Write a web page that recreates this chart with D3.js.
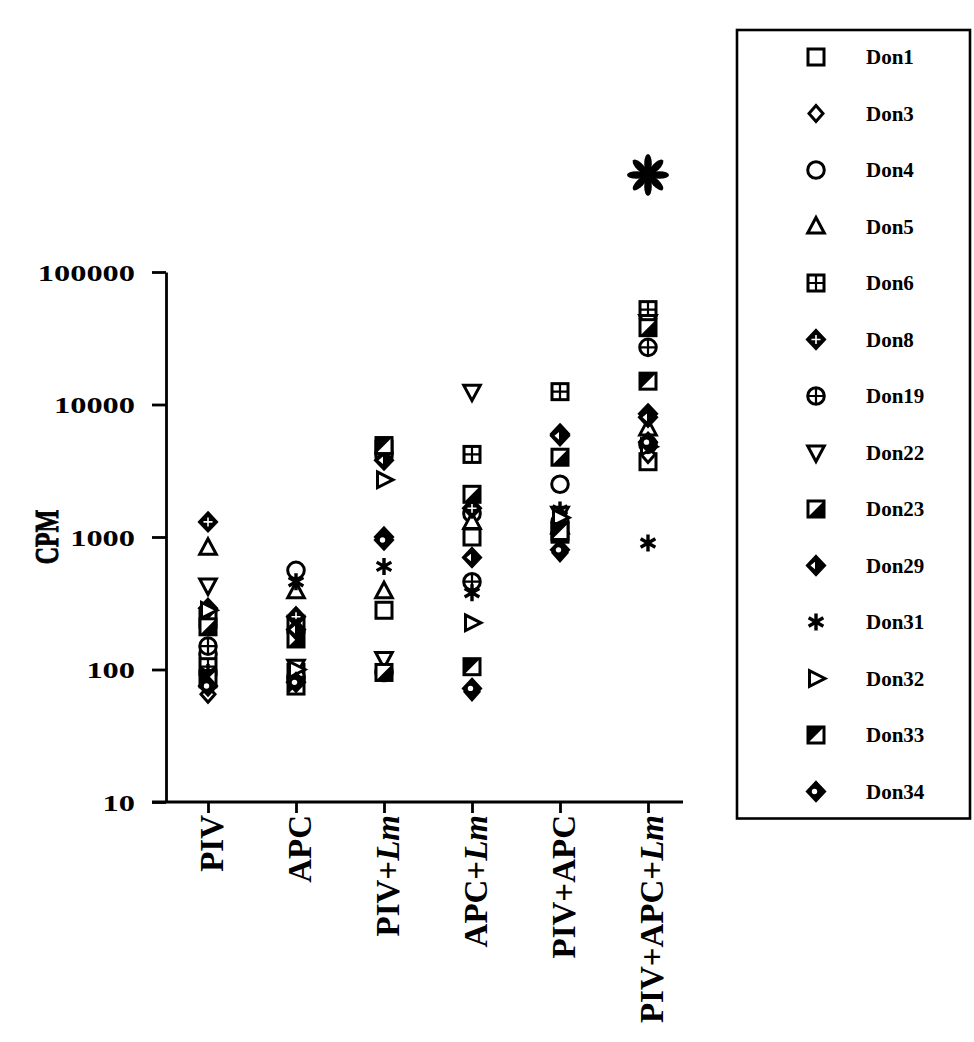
<!DOCTYPE html>
<html>
<head>
<meta charset="utf-8">
<script src="https://cdn.jsdelivr.net/npm/d3@7"></script>
<style>
  body { margin: 0; background: #fff; }
  svg { display: block; }
  text { font-family: "Liberation Serif", "Times New Roman", serif; fill: #000; }
</style>
</head>
<body>
<svg id="chart" width="974" height="1042"></svg>
<script>
// Treatment groups along the x axis
const categories = ["PIV", "APC", "PIV+Lm", "APC+Lm", "PIV+APC", "PIV+APC+Lm"];
// y-axis tick values (CPM, log scale)
const yTicks = [10, 100, 1000, 10000, 100000];

// Donor names and their marker shapes
const donors  = ["Don1", "Don3", "Don4", "Don5", "Don6", "Don8", "Don19", "Don22", "Don23", "Don29", "Don31", "Don32", "Don33", "Don34"];
const symbols = ["square", "diamond", "circle", "triUp", "squareGrid", "diamondCross", "circlePlus", "triDown", "squareHalfLR", "diamondHalf", "asterisk", "triRight", "squareHalfUL", "diamondDot"];

// CPM per donor, one value per treatment group (same order as categories)
const don1  = [240, 220, 280, 1000, 1050, 3700];
const don3  = [65, 85, 100, 68, 760, 4200];
const don4  = [130, 560, 4300, 1500, 2500, 5000];
const don5  = [830, 390, 390, 1300, 1200, 6600];
const don6  = [105, 95, 4600, 4200, 12500, 52000];
const don8  = [1300, 250, 1000, 1650, 6000, 8500];
const don19 = [150, 88, 95, 460, 1300, 27000];
const don22 = [430, 105, 120, 12500, 1500, 42000];
const don23 = [210, 170, 95, 2100, 4000, 38000];
const don29 = [290, 200, 3800, 700, 5800, 8000];
const don31 = [95, 460, 600, 380, 1600, 900];
const don32 = [280, 100, 2700, 225, 1400, 4800];
const don33 = [85, 75, 4900, 105, 1100, 15000];
const don34 = [75, 80, 950, 72, 800, 5200];

const values = [don1, don3, don4, don5, don6, don8, don19, don22, don23, don29, don31, don32, don33, don34];

const svg = d3.select("#chart");

const x = d3.scalePoint().domain(categories).range([208, 648]);
const y = d3.scaleLog().domain([10, 100000]).range([802, 272]);

const AX_W = 2.8;

// ---------- marker drawing ----------
function drawMarker(g, type) {
  const r = 8, sw = 3;
  const st = sel => sel.attr("stroke", "#000").attr("stroke-width", sw).attr("stroke-linejoin", "miter");
  const poly = pts => "M" + pts.map(p => p.join(",")).join("L") + "Z";
  const dia = (w, h) => poly([[0, -h], [w, 0], [0, h], [-w, 0]]);
  switch (type) {
    case "square":
      st(g.append("rect").attr("x", -r).attr("y", -r).attr("width", 2 * r).attr("height", 2 * r).attr("fill", "#fff"));
      break;
    case "diamond":
      st(g.append("path").attr("d", dia(7, 8)).attr("fill", "#fff"));
      break;
    case "circle":
      st(g.append("circle").attr("r", 8.3).attr("fill", "#fff"));
      break;
    case "triUp":
      st(g.append("path").attr("d", poly([[0, -9], [8.3, 6.5], [-8.3, 6.5]])).attr("fill", "#fff"));
      break;
    case "triDown":
      st(g.append("path").attr("d", poly([[0, 9], [8.3, -6.5], [-8.3, -6.5]])).attr("fill", "#fff"));
      break;
    case "triRight":
      st(g.append("path").attr("d", poly([[9, 0], [-6.5, -7.8], [-6.5, 7.8]])).attr("fill", "#fff"));
      break;
    case "squareGrid":
      st(g.append("rect").attr("x", -r).attr("y", -r).attr("width", 2 * r).attr("height", 2 * r).attr("fill", "#fff"));
      g.append("path").attr("d", `M0,${-r}V${r}M${-r},0H${r}`).attr("stroke", "#000").attr("stroke-width", 2.2);
      break;
    case "circlePlus":
      st(g.append("circle").attr("r", 8.3).attr("fill", "#fff"));
      g.append("path").attr("d", "M0,-8.3V8.3M-8.3,0H8.3").attr("stroke", "#000").attr("stroke-width", 2.2);
      break;
    case "squareHalfLR":
      st(g.append("rect").attr("x", -r).attr("y", -r).attr("width", 2 * r).attr("height", 2 * r).attr("fill", "#fff"));
      g.append("path").attr("d", poly([[r, -r], [r, r], [-r, r]])).attr("fill", "#000");
      break;
    case "squareHalfUL":
      st(g.append("rect").attr("x", -r).attr("y", -r).attr("width", 2 * r).attr("height", 2 * r).attr("fill", "#fff"));
      g.append("path").attr("d", poly([[-r, -r], [r, -r], [-r, r]])).attr("fill", "#000");
      break;
    case "diamondCross":
      st(g.append("path").attr("d", dia(8.5, 9)).attr("fill", "#000"));
      g.append("path").attr("d", "M0,-4.5V4.5M-4.5,0H4.5").attr("stroke", "#fff").attr("stroke-width", 1.6);
      break;
    case "diamondHalf":
      st(g.append("path").attr("d", dia(8.5, 9)).attr("fill", "#000"));
      g.append("path").attr("d", poly([[-5.5, 0], [-1, -3.8], [-1, 3.8]])).attr("fill", "#fff");
      break;
    case "diamondDot":
      st(g.append("path").attr("d", dia(8.5, 9)).attr("fill", "#000"));
      g.append("circle").attr("cx", -1.5).attr("r", 2.7).attr("fill", "#fff");
      break;
    case "asterisk": {
      const a = 8.5;
      const d = [90, 30, 150].map(deg => {
        const t = deg * Math.PI / 180, cx = a * Math.cos(t), cy = a * Math.sin(t);
        return `M${-cx},${-cy}L${cx},${cy}`;
      }).join("");
      g.append("path").attr("d", d).attr("stroke", "#000").attr("stroke-width", 3.4);
      break;
    }
  }
}

// ---------- axes ----------
const yAxis = d3.axisLeft(y)
  .tickValues(yTicks)
  .tickFormat(d3.format("d"))
  .tickSize(14)
  .tickSizeOuter(0)
  .tickPadding(17);

const gy = svg.append("g").attr("transform", "translate(166,0)").call(yAxis);
gy.selectAll("path, line").attr("stroke", "#000").attr("stroke-width", AX_W);
gy.selectAll("text")
  .attr("font-family", "Liberation Serif, serif")
  .attr("font-weight", "bold")
  .attr("font-size", 23)
  .attr("dy", "0.36em")
  .attr("textLength", d => String(d).length * 16.2)
  .attr("lengthAdjust", "spacingAndGlyphs");

const xAxis = d3.axisBottom(x).tickSize(11).tickSizeOuter(0).tickFormat("");
const gx = svg.append("g").attr("transform", "translate(0,802)").call(xAxis);
gx.select(".domain").remove();
gx.selectAll("line").attr("stroke", "#000").attr("stroke-width", AX_W);
gx.append("line").attr("x1", 152).attr("x2", 683).attr("y1", 0).attr("y2", 0)
  .attr("stroke", "#000").attr("stroke-width", AX_W);

// rotated category labels, "Lm" in italics
gx.selectAll(".cat")
  .data(categories)
  .join("text")
  .attr("class", "cat")
  .attr("transform", d => `translate(${x(d) + 15},13) rotate(-90)`)
  .attr("text-anchor", "end")
  .attr("font-family", "Liberation Serif, serif")
  .attr("font-weight", "bold")
  .attr("font-size", 33)
  .each(function (d) {
    const t = d3.select(this);
    const parts = d.split("Lm");
    t.append("tspan").text(parts[0]);
    if (d.endsWith("Lm")) t.append("tspan").attr("font-style", "italic").text("Lm");
  });

// y-axis title
svg.append("text")
  .attr("transform", "translate(58,537) scale(1.4,1) rotate(-90)")
  .attr("text-anchor", "middle")
  .attr("font-family", "Liberation Serif, serif")
  .attr("font-weight", "bold")
  .attr("font-size", 24)
  .attr("stroke", "#000")
  .attr("stroke-width", 0.7)
  .text("CPM");

// ---------- points ----------
const series = donors.map((name, i) => ({ name, symbol: symbols[i], values: values[i] }));
const pts = [];
series.forEach(s => s.values.forEach((v, j) => pts.push({ name: s.name, symbol: s.symbol, cat: categories[j], v })));

svg.append("g").attr("class", "points")
  .selectAll("g")
  .data(pts)
  .join("g")
  .attr("transform", d => `translate(${x(d.cat)},${y(d.v)})`)
  .each(function (d) { drawMarker(d3.select(this), d.symbol); });

// significance marker above the combined treatment
const star = svg.append("g").attr("transform", `translate(${x("PIV+APC+Lm")},175)`);
d3.range(8).forEach(i => {
  star.append("ellipse")
    .attr("cx", 0).attr("cy", -11.5).attr("rx", 3.8).attr("ry", 9.5)
    .attr("transform", `rotate(${i * 45})`)
    .attr("fill", "#000");
});
star.append("circle").attr("r", 3).attr("fill", "#000");

// ---------- legend ----------
const legend = svg.append("g").attr("class", "legend");
const rowY = i => 57 + i * 56.5;
legend.append("rect")
  .attr("x", 737).attr("y", 30)
  .attr("width", 233).attr("height", rowY(donors.length - 1) + 27 - 30)
  .attr("fill", "none").attr("stroke", "#000").attr("stroke-width", 2.6);

const items = legend.selectAll(".item")
  .data(series)
  .join("g")
  .attr("class", "item")
  .attr("transform", (d, i) => `translate(0,${rowY(i)})`);
items.append("g").attr("transform", "translate(816,0)").each(function (d) { drawMarker(d3.select(this), d.symbol); });
items.append("text")
  .attr("x", 866).attr("dy", "0.35em")
  .attr("font-size", 21).attr("font-weight", "bold")
  .text(d => d.name);
</script>
</body>
</html>
